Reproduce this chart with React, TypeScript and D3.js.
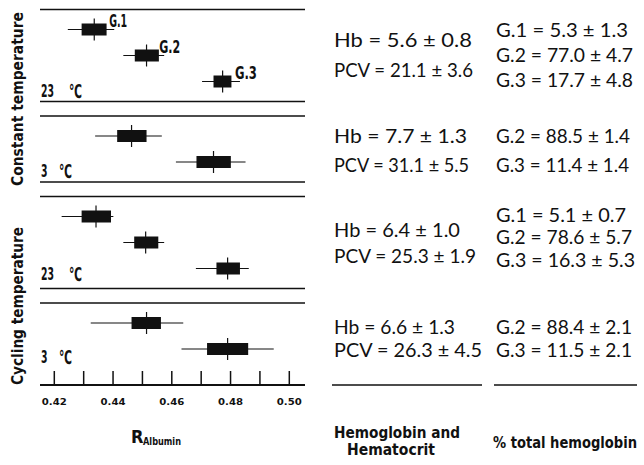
import React from "react";
import * as d3 from "d3";

// ---------- data ----------
const tickValues = [0.42, 0.43, 0.44, 0.45, 0.46, 0.47, 0.48, 0.49, 0.5];
const tickLabelValues = [0.42, 0.44, 0.46, 0.48, 0.5];

const regimeNames = ["Constant temperature", "Cycling temperature"];
const panelTemps = ["23", "3", "23", "3"];
const panelRowCounts = [3, 2, 3, 2];

// boxes (R albumin)
const boxPanel = [0, 0, 0, 1, 1, 2, 2, 2, 3, 3];
const boxRow = [0, 1, 2, 0, 1, 0, 1, 2, 0, 1];
const boxGroup = ["G.1", "G.2", "G.3", "G.2", "G.3", "G.1", "G.2", "G.3", "G.2", "G.3"];
const boxMean = [0.4336, 0.4514, 0.4773, 0.4463, 0.4742, 0.4342, 0.4511, 0.479, 0.4514, 0.479];
const boxLow = [0.4293, 0.4474, 0.4742, 0.4414, 0.4684, 0.4293, 0.4472, 0.4752, 0.4463, 0.472];
const boxHigh = [0.4378, 0.4556, 0.4803, 0.4514, 0.4801, 0.4393, 0.4554, 0.4832, 0.4563, 0.486];
const whiskerLow = [0.4246, 0.4435, 0.4703, 0.4339, 0.4614, 0.4225, 0.4435, 0.4682, 0.4324, 0.4633];
const whiskerHigh = [0.4404, 0.4574, 0.4832, 0.4566, 0.4851, 0.4401, 0.4574, 0.4862, 0.4639, 0.4947];
const labelledPanel = 0;

// hemoglobin and hematocrit
const hbMean = ["5.6", "7.7", "6.4", "6.6"];
const hbSd = ["0.8", "1.3", "1.0", "1.3"];
const pcvMean = ["21.1", "31.1", "25.3", "26.3"];
const pcvSd = ["3.6", "5.5", "1.9", "4.5"];

// % total hemoglobin per group
const pctPanel = [0, 0, 0, 1, 1, 2, 2, 2, 3, 3];
const pctGroup = ["G.1", "G.2", "G.3", "G.2", "G.3", "G.1", "G.2", "G.3", "G.2", "G.3"];
const pctMean = ["5.3", "77.0", "17.7", "88.5", "11.4", "5.1", "78.6", "16.3", "88.4", "11.5"];
const pctSd = ["1.3", "4.7", "4.8", "1.4", "1.4", "0.7", "5.7", "5.3", "2.1", "2.1"];

// ---------- layout ----------
const W = 644;
const H = 465;
const frameL = 40;
const frameR = 305;
const firstTop = 9.5;
const padTop = 20;
const rowGap = 26;
const padBottom = [20, 20, 20, 36];
const panelGap = 14.5;

const tempLabelY = [97, 177, 280, 363];
const tempDegX = [69, 59, 69, 59];
const regimeY = [99, 306];
const regimeLen = [174, 158];
const groupLabelLen = [18, 21, 22];

const hbY = [46.7, 143.3, 237.3, 333.5];
const pcvY = [76.7, 171.7, 263.3, 356.5];
const hbLen = [138, 133, 126, 121];
const pcvLen = [139, 135, 142, 148];
const pctY = [36.7, 61.5, 87, 143.3, 171.7, 221.5, 244, 266.7, 333.5, 356.5];
const pctLen = [132, 137, 137, 134, 133, 130, 136, 139, 136, 136];
const textSize = 19;

const condFont = "'DejaVu Sans Condensed', 'DejaVu Sans', sans-serif";
const textFont = "Lato, 'Open Sans', sans-serif";

export default function App() {
  const x = d3.scaleLinear().domain([0.42, 0.5]).range([54.3, 289.3]);

  const tops: number[] = [];
  const bottoms: number[] = [];
  let t = firstTop;
  panelRowCounts.forEach((n, i) => {
    tops.push(t);
    const b = t + padTop + (n - 1) * rowGap + padBottom[i];
    bottoms.push(b);
    t = b + panelGap;
  });
  const rowY = (p: number) =>
    d3.scaleLinear().domain([0, 1]).range([tops[p] + padTop, tops[p] + padTop + rowGap]);

  const axisY = bottoms[bottoms.length - 1];
  const fmt = d3.format(".2f");

  return (
    <svg
      width={W}
      height={H}
      style={{ position: "absolute", left: 0, top: 0, background: "#fff" }}
    >
      <rect width={W} height={H} fill="#fff" />
      {/* panel frame lines */}
      {tops.map((tp, i) => (
        <g key={"pl" + i}>
          <line x1={frameL} x2={frameR} y1={tp} y2={tp} stroke="#111" strokeWidth={1.7} />
          {i < tops.length - 1 && (
            <line x1={frameL} x2={frameR} y1={bottoms[i]} y2={bottoms[i]} stroke="#111" strokeWidth={1.7} />
          )}
        </g>
      ))}
      {/* axis */}
      <line x1={frameL} x2={frameR} y1={axisY} y2={axisY} stroke="#111" strokeWidth={2} />
      {tickValues.map((v) => (
        <line key={"t" + v} x1={x(v)} x2={x(v)} y1={axisY} y2={axisY - 14} stroke="#111" strokeWidth={1.5} />
      ))}
      {tickLabelValues.map((v) => (
        <text
          key={"tl" + v}
          x={x(v)}
          y={axisY + 20}
          textAnchor="middle"
          fontFamily="'DejaVu Sans', sans-serif"
          fontWeight="bold"
          fontSize={9.5}
          textLength={25}
          lengthAdjust="spacingAndGlyphs"
          fill="#111"
        >
          {fmt(v)}
        </text>
      ))}
      <text x={131} y={443} fontFamily={condFont} fontWeight="bold" fontSize={18} fill="#111">
        R
      </text>
      <text
        x={143}
        y={445}
        fontFamily={condFont}
        fontWeight="bold"
        fontSize={10}
        textLength={38}
        lengthAdjust="spacingAndGlyphs"
        fill="#111"
      >
        Albumin
      </text>

      {/* regime labels */}
      {regimeNames.map((name, i) => (
        <text
          key={"rg" + i}
          transform={`translate(23,${regimeY[i]}) rotate(-90)`}
          textAnchor="middle"
          fontFamily={condFont}
          fontWeight="bold"
          fontSize={15}
          textLength={regimeLen[i]}
          lengthAdjust="spacingAndGlyphs"
          fill="#111"
        >
          {name}
        </text>
      ))}

      {/* temperature labels */}
      {panelTemps.map((tmp, i) => (
        <g key={"tp" + i}>
          <text
            x={41}
            y={tempLabelY[i]}
            fontFamily={condFont}
            fontWeight="bold"
            fontSize={17}
            textLength={tmp.length * 6.5}
            lengthAdjust="spacingAndGlyphs"
            fill="#111"
          >
            {tmp}
          </text>
          <text
            x={tempDegX[i]}
            y={tempLabelY[i] + 1}
            fontFamily="'DejaVu Sans', sans-serif"
            fontWeight="bold"
            fontSize={19}
            textLength={13}
            lengthAdjust="spacingAndGlyphs"
            fill="#111"
          >
            ℃
          </text>
        </g>
      ))}

      {/* boxes */}
      {boxMean.map((m, i) => {
        const cy = rowY(boxPanel[i])(boxRow[i]);
        return (
          <g key={"bx" + i}>
            <line x1={x(whiskerLow[i])} x2={x(whiskerHigh[i])} y1={cy} y2={cy} stroke="#111" strokeWidth={1.2} />
            <line x1={x(m)} x2={x(m)} y1={cy - 11} y2={cy + 11} stroke="#111" strokeWidth={1.2} />
            <rect
              x={x(boxLow[i])}
              y={cy - 6}
              width={x(boxHigh[i]) - x(boxLow[i])}
              height={12}
              fill="#111"
            />
            {boxPanel[i] === labelledPanel && (
              <text
                x={x(whiskerHigh[i]) - 5}
                y={cy - 2.5}
                fontFamily={condFont}
                fontWeight="bold"
                fontSize={17}
                textLength={groupLabelLen[boxRow[i]]}
                lengthAdjust="spacingAndGlyphs"
                fill="#111"
              >
                {boxGroup[i]}
              </text>
            )}
          </g>
        );
      })}

      {/* Hb / PCV column */}
      {hbMean.map((m, i) => (
        <g key={"hb" + i}>
          <text
            x={334}
            y={hbY[i]}
            fontFamily={textFont}
            fontSize={textSize}
            textLength={hbLen[i]}
            lengthAdjust="spacingAndGlyphs"
            fill="#111"
          >
            {`Hb = ${m} ± ${hbSd[i]}`}
          </text>
          <text
            x={334}
            y={pcvY[i]}
            fontFamily={textFont}
            fontSize={textSize}
            textLength={pcvLen[i]}
            lengthAdjust="spacingAndGlyphs"
            fill="#111"
          >
            {`PCV = ${pcvMean[i]} ± ${pcvSd[i]}`}
          </text>
        </g>
      ))}

      {/* % total hemoglobin column */}
      {pctMean.map((m, i) => (
        <text
          key={"pc" + i}
          x={496}
          y={pctY[i]}
          fontFamily={textFont}
          fontSize={textSize}
          textLength={pctLen[i]}
          lengthAdjust="spacingAndGlyphs"
          fill="#111"
        >
          {`${pctGroup[i]} = ${m} ± ${pctSd[i]}`}
        </text>
      ))}

      {/* column rules and titles */}
      <line x1={332} x2={482} y1={385} y2={385} stroke="#111" strokeWidth={1.5} />
      <line x1={494} x2={637} y1={385} y2={385} stroke="#111" strokeWidth={1.5} />
      <text
        x={334}
        y={438}
        fontFamily={condFont}
        fontWeight="bold"
        fontSize={15}
        textLength={126}
        lengthAdjust="spacingAndGlyphs"
        fill="#111"
      >
        Hemoglobin and
      </text>
      <text
        x={347}
        y={455}
        fontFamily={condFont}
        fontWeight="bold"
        fontSize={15}
        textLength={88}
        lengthAdjust="spacingAndGlyphs"
        fill="#111"
      >
        Hematocrit
      </text>
      <text
        x={493}
        y={448}
        fontFamily={condFont}
        fontWeight="bold"
        fontSize={15}
        textLength={144}
        lengthAdjust="spacingAndGlyphs"
        fill="#111"
      >
        % total hemoglobin
      </text>
    </svg>
  );
}
